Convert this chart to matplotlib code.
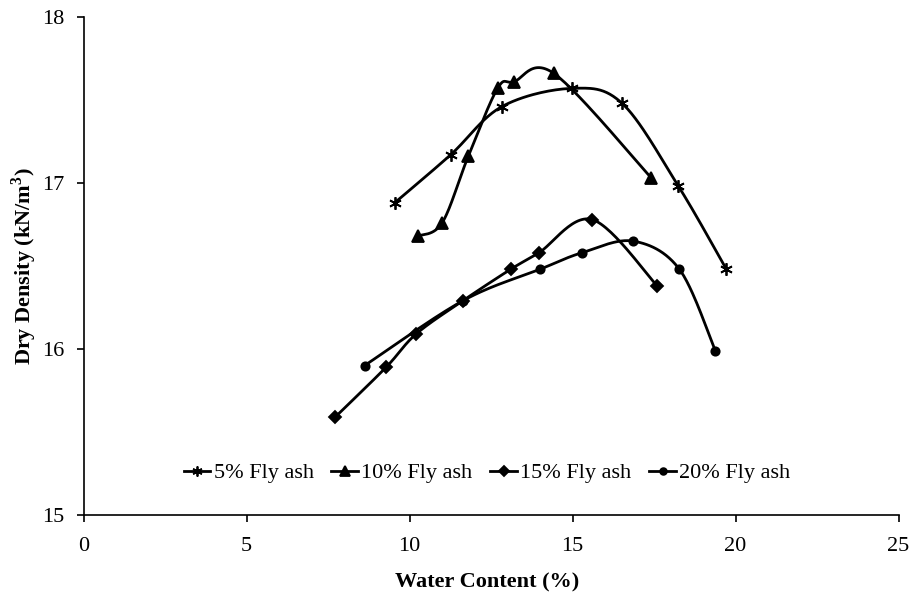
import numpy as np
import matplotlib
matplotlib.use("Agg")
import matplotlib.pyplot as plt

plt.rcParams['font.family'] = ['Liberation Serif', 'DejaVu Serif']
plt.rcParams['mathtext.fontset'] = 'custom'
plt.rcParams['mathtext.rm'] = 'Liberation Serif'
plt.rcParams['mathtext.bf'] = 'Liberation Serif:bold'

labels = ["5% Fly ash", "10% Fly ash", "15% Fly ash", "20% Fly ash"]
wc_5 = [9.54, 11.26, 12.83, 14.98, 16.52, 18.25, 19.72]
dd_5 = [16.88, 17.17, 17.46, 17.57, 17.48, 16.98, 16.48]
wc_10 = [10.26, 11.0, 11.8, 12.7, 13.2, 14.43, 17.42]
dd_10 = [16.68, 16.76, 17.16, 17.57, 17.61, 17.66, 17.03]
wc_15 = [7.72, 9.28, 10.2, 11.63, 13.1, 13.97, 15.6, 17.6]
dd_15 = [15.59, 15.89, 16.09, 16.29, 16.48, 16.58, 16.78, 16.38]
wc_20 = [8.62, 11.63, 14.0, 15.29, 16.86, 18.28, 19.38]
dd_20 = [15.90, 16.29, 16.48, 16.58, 16.65, 16.48, 15.99]

series = [(wc_5, dd_5), (wc_10, dd_10), (wc_15, dd_15), (wc_20, dd_20)]
markers = [(6, 2, 0), '^', 'D', 'o']
msizes = [9, 9, 6, 6]


def smooth(x, y, n=30):
    x = np.asarray(x, float)
    y = np.asarray(y, float)
    P = np.column_stack([x, y])
    P = np.vstack([P[0], P, P[-1]])
    out = []
    for i in range(1, len(P) - 2):
        p0, p1, p2, p3 = P[i - 1], P[i], P[i + 1], P[i + 2]
        c1 = p1 + (p2 - p0) / 6.0
        c2 = p2 - (p3 - p1) / 6.0
        t = np.linspace(0, 1, n)[:, None]
        seg = ((1 - t) ** 3) * p1 + 3 * ((1 - t) ** 2) * t * c1 + 3 * (1 - t) * t ** 2 * c2 + t ** 3 * p2
        out.append(seg if i == 1 else seg[1:])
    s = np.vstack(out)
    return s[:, 0], s[:, 1]


fig = plt.figure(figsize=(9.1, 6.01), dpi=100)
ax = fig.add_axes([0.0918, 0.1431, 0.8956, 0.8286])

for (x, y), m, ms, lab in zip(series, markers, msizes, labels):
    sx, sy = smooth(x, y)
    ax.plot(sx, sy, color='black', lw=2.0, solid_capstyle='round')
    ax.plot(x, y, linestyle='none', marker=m, ms=ms, color='black', mew=1.3)
    ax.plot([], [], color='black', lw=2.0, marker=m, ms=ms, mew=1.3, label=lab)

ax.set_xlim(0, 25)
ax.set_ylim(15, 18)
ax.set_xticks([0, 5, 10, 15, 20, 25])
ax.set_yticks([15, 16, 17, 18])
ax.spines['top'].set_visible(False)
ax.spines['right'].set_visible(False)
ax.spines['left'].set_linewidth(1.2)
ax.spines['bottom'].set_linewidth(1.2)
ax.tick_params(direction='out', length=5, width=1.2, labelsize=16)
ax.tick_params(axis='x', pad=11)
ax.tick_params(axis='y', pad=9)
ax.set_xlabel('Water Content (%)', fontsize=16, fontweight='bold')
ax.set_ylabel(r'Dry Density (kN/m$^{\mathbf{3}}$)', fontsize=16, fontweight='bold')
ax.xaxis.set_label_coords(0.495, -0.115)
ax.yaxis.set_label_coords(-0.055, 0.5)

ax.legend(loc='center', bbox_to_anchor=(0.495, 0.084), ncol=4, frameon=False,
          fontsize=16, handlelength=1.2, handletextpad=0.15, columnspacing=0.8,
          markerscale=0.8)

fig.savefig('out.png', dpi=100)
